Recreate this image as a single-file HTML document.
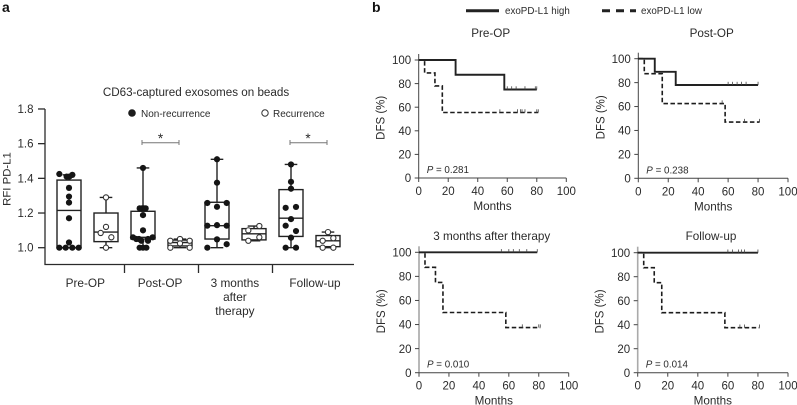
<!DOCTYPE html>
<html lang="en">
<head>
<meta charset="utf-8">
<title>Exosomal PD-L1 figure</title>
<style>
html,body{margin:0;padding:0;background:#fff;}
svg{display:block;font-family:"Liberation Sans",Arial,sans-serif;fill:#2b2b2b;filter:blur(.3px);}
text{fill:#2b2b2b;}
</style>
</head>
<body>
<svg id="figure" width="797" height="405" viewBox="0 0 797 405" xmlns="http://www.w3.org/2000/svg">
  <rect x="0" y="0" width="797" height="405" style="fill:#fff"/>
  <text x="2" y="12" font-size="14" font-weight="bold" style="fill:#111">a</text>
  <text x="372" y="12" font-size="14" font-weight="bold" style="fill:#111">b</text>
  <text x="196" y="96" font-size="11.65" text-anchor="middle">CD63-captured exosomes on beads</text>
  <text transform="translate(10.500,179) rotate(-90)" font-size="11.4" text-anchor="middle">RFI PD-L1</text>
  <circle cx="132" cy="113" r="3.8" style="fill:#1c1c1c"/>
  <text x="141" y="117" font-size="10">Non-recurrence</text>
  <circle cx="265" cy="113" r="3.2" style="fill:#fff;stroke:#333;stroke-width:1"/>
  <text x="273" y="117" font-size="10">Recurrence</text>
  <g style="fill:none;stroke:#777;stroke-width:1">
    <path d="M142 140V145M142 142.7H179M179 140V145"/>
  </g>
  <text x="160.500" y="143" font-size="13.500" text-anchor="middle">*</text>
  <g style="fill:none;stroke:#777;stroke-width:1">
    <path d="M290 140V145M290 142.7H327M327 140V145"/>
  </g>
  <text x="308" y="143" font-size="13.500" text-anchor="middle">*</text>
  <line x1="466" y1="10.700" x2="499" y2="10.700" style="stroke:#222;stroke-width:3"/>
  <text x="505" y="14" font-size="9.800">exoPD-L1 high</text>
  <line x1="602" y1="10.700" x2="636" y2="10.700" style="stroke:#222;stroke-width:3;stroke-dasharray:8 6"/>
  <text x="641" y="14" font-size="9.800">exoPD-L1 low</text>
  <g id="box-chart"></g>
  <g id="km-charts"></g>
</svg>
<script>
// ---------- Panel a data ----------
const boxCategories = [["Pre-OP"], ["Post-OP"], ["3 months", "after", "therapy"], ["Follow-up"]];
const rfiTicks = [1.0, 1.2, 1.4, 1.6, 1.8];
const boxLow = [1.0, 1.0, 1.0, 1.0, 1.0, 1.04, 1.0, 1.0];
const boxQ1 = [1.0, 1.035, 1.05, 1.01, 1.05, 1.045, 1.065, 1.006];
const boxMedian = [1.215, 1.09, 1.06, 1.03, 1.127, 1.08, 1.17, 1.04];
const boxQ3 = [1.39, 1.2, 1.21, 1.044, 1.262, 1.11, 1.335, 1.07];
const boxHigh = [1.42, 1.29, 1.46, 1.05, 1.51, 1.125, 1.48, 1.09];
const preOpNonValues = [1.425, 1.42, 1.41, 1.41, 1.345, 1.295, 1.26, 1.17, 1.03, 1.0, 1.0, 1.0, 1.0];
const preOpNonSlots = [-1.45, 0.5, -0.35, 0.05, 0, 0, 0, 0, 0, -1.45, -0.5, 0.5, 1.45];
const preOpRecValues = [1.29, 1.12, 1.085, 1.06, 1.0];
const preOpRecSlots = [0, 0, -0.8, 0.8, 0];
const postOpNonValues = [1.46, 1.227, 1.227, 1.227, 1.227, 1.188, 1.1, 1.06, 1.06, 1.05, 1.05, 1.05, 1.04, 1.04, 1.0, 1.0, 1.0];
const postOpNonSlots = [0, -0.5, -0.15, 0.15, 0.4, 0, 0, -1.5, 1.45, -1, -0.6, 0.75, -0.25, 0.75, -0.5, 0, 0.5];
const postOpRecValues = [1.05, 1.04, 1.04, 1.025, 1.0, 1.0];
const postOpRecSlots = [0, -1.45, 1.45, 0, -1.45, 1.45];
const threeMonthNonValues = [1.51, 1.375, 1.258, 1.258, 1.236, 1.127, 1.13, 1.127, 1.048, 1.02, 1.0];
const threeMonthNonSlots = [0, 0, -1.45, 1.45, 0, -1.45, 0, 1.45, 0, 1.45, -1.45];
const threeMonthRecValues = [1.125, 1.1, 1.06, 1.04];
const threeMonthRecSlots = [0.8, -0.85, 0.8, -0.85];
const followUpNonValues = [1.48, 1.38, 1.34, 1.23, 1.235, 1.165, 1.127, 1.096, 1.058, 1.0, 1.0];
const followUpNonSlots = [0, 0, 0, -0.8, 0.75, 0, -0.8, 0.75, 0, -0.8, 0.75];
const followUpRecValues = [1.09, 1.04, 1.055, 1.0, 1.0];
const followUpRecSlots = [0, -0.8, 0.8, -0.8, 0.8];

// ---------- Panel b data ----------
const monthTicks = [0, 20, 40, 60, 80, 100];
const dfsTicks = [0, 20, 40, 60, 80, 100];
const preOpHighMonths = [0, 25, 58, 80];
const preOpHighDfs = [100, 87.5, 75, 75];
const preOpHighCensored = [60, 63, 66, 72, 79, 80];
const preOpLowMonths = [0, 4, 11, 16, 81];
const preOpLowDfs = [100, 89, 78, 55.5, 55.5];
const preOpLowCensored = [55, 67, 69, 70, 72, 80, 81];
const postOpHighMonths = [0, 11, 25, 80];
const postOpHighDfs = [100, 89, 78, 78];
const postOpHighCensored = [60, 63, 66, 69, 72, 80];
const postOpLowMonths = [0, 4, 16, 58, 81];
const postOpLowDfs = [100, 87.5, 62.5, 47, 47];
const postOpLowCensored = [56, 71, 81];
const threeMonthHighMonths = [0, 79];
const threeMonthHighDfs = [100, 100];
const threeMonthHighCensored = [55, 60, 63, 67, 72, 79];
const threeMonthLowMonths = [0, 4, 11, 16, 58, 81];
const threeMonthLowDfs = [100, 87.5, 75, 50, 37.5, 37.5];
const threeMonthLowCensored = [69, 80, 81];
const followUpHighMonths = [0, 80];
const followUpHighDfs = [100, 100];
const followUpHighCensored = [60, 63, 67, 69, 71, 80];
const followUpLowMonths = [0, 4, 11, 16, 58, 81];
const followUpLowDfs = [100, 87.5, 75, 50, 37.5, 37.5];
const followUpLowCensored = [68, 71, 81];

const NS = "http://www.w3.org/2000/svg";
function make(tag, attrs, parent, style) {
  const el = document.createElementNS(NS, tag);
  for (const k in attrs) el.setAttribute(k, attrs[k]);
  if (style) el.setAttribute("style", style);
  parent.appendChild(el);
  return el;
}

// ---------- Box chart ----------
const boxRoot = document.getElementById("box-chart");
const yRfi = v => 247.7 - (v - 1) * 173.4;
const xBox = i => 69 + 37 * i;
const slotPx = 6.67;
const halfBox = 12;
const axisStyle = "stroke:#2b2b2b;stroke-width:1.3;fill:none";

const rfiAxis = make("line", {x1: 45, y1: yRfi(1.8), x2: 45, y2: 264.5}, boxRoot, axisStyle);


const catAxis = make("line", {x1: 44.4, y1: 264.5, x2: 354, y2: 264.5}, boxRoot, axisStyle);



rfiTicks.forEach(t => {
  const tick = make("line", {x1: 38, y1: yRfi(t), x2: 45, y2: yRfi(t)}, boxRoot, axisStyle);
  
  
  const label = make("text", {x: 33.500, y: yRfi(t) + 4, "font-size": 11.5, "text-anchor": "end"}, boxRoot);
  
  
  label.textContent = t.toFixed(1);
});

const categoryCenter = i => i === 3 ? 315 : 85.3 + 74.8 * i;
boxCategories.forEach((lines, i) => {
  if (i < 3) {
    const sep = make("line", {x1: (xBox(2 * i + 1) + xBox(2 * i + 2)) / 2, y1: 264.5, x2: (xBox(2 * i + 1) + xBox(2 * i + 2)) / 2, y2: 273}, boxRoot, axisStyle);
    
    
  }
  lines.forEach((line, j) => {
    const label = make("text", {x: categoryCenter(i), y: 287 + j * 14, "font-size": 11.8, "text-anchor": "middle"}, boxRoot);
    
    
    label.textContent = line;
  });
});

const boxPointValues = [preOpNonValues, preOpRecValues, postOpNonValues, postOpRecValues, threeMonthNonValues, threeMonthRecValues, followUpNonValues, followUpRecValues];
const boxPointSlots = [preOpNonSlots, preOpRecSlots, postOpNonSlots, postOpRecSlots, threeMonthNonSlots, threeMonthRecSlots, followUpNonSlots, followUpRecSlots];

boxMedian.forEach((median, i) => {
  const cx = xBox(i);
  const open = i % 2 === 1;
  const group = make("g", {}, boxRoot);
  
  
  const ln = "stroke:#222;stroke-width:1.4;fill:none";
  const box = make("rect", {x: cx - halfBox, y: yRfi(boxQ3[i]), width: 2 * halfBox, height: yRfi(boxQ1[i]) - yRfi(boxQ3[i])}, group, ln);
  
  
  const med = make("line", {x1: cx - halfBox, y1: yRfi(median), x2: cx + halfBox, y2: yRfi(median)}, group, ln);
  
  
  const upper = make("path", {d: "M" + cx + " " + yRfi(boxQ3[i]) + "V" + yRfi(boxHigh[i]) + "M" + (cx - 6.3) + " " + yRfi(boxHigh[i]) + "H" + (cx + 6.3)}, group, ln);
  
  
  const lower = make("path", {d: "M" + cx + " " + yRfi(boxQ1[i]) + "V" + yRfi(boxLow[i]) + "M" + (cx - 6.3) + " " + yRfi(boxLow[i]) + "H" + (cx + 6.3)}, group, ln);
  
  
  boxPointValues[i].forEach((v, k) => {
    const dot = make("circle", {cx: cx + boxPointSlots[i][k] * slotPx, cy: yRfi(v), r: open ? 2.6 : 3.1}, group,
      open ? "fill:#fff;stroke:#333;stroke-width:1.1" : "fill:#151515");
    
    
  });
});

// ---------- Survival charts ----------
const kmRoot = document.getElementById("km-charts");
function drawPanel(name, title, pValue, frame, high, low) {
  const x = m => frame.x0 + (frame.x100 - frame.x0) * m / 100;
  const y = d => frame.y0 - (frame.y0 - frame.y100) * d / 100;
  const g = make("g", {}, kmRoot);
  
  

  const titleEl = make("text", {x: frame.titleX, y: frame.titleY, "font-size": 11.7, "text-anchor": "middle"}, g);
  
  
  titleEl.textContent = title;

  const ax = "stroke:#444;stroke-width:1;fill:none";
  const yAxis = make("line", {x1: x(0), y1: y(100) - 6, x2: x(0), y2: y(0)}, g, "stroke:" + frame.yColor + ";stroke-width:" + frame.yWidth + ";fill:none");
  
  
  const xAxis = make("line", {x1: x(0), y1: y(0), x2: x(100), y2: y(0)}, g, ax);
  
  

  dfsTicks.forEach(t => {
    const tick = make("line", {x1: x(0) - 4, y1: y(t), x2: x(0), y2: y(t)}, g, ax);
    
    
    const label = make("text", {x: x(0) - 7.5, y: y(t) + 4.2, "font-size": 11.5, "text-anchor": "end"}, g);
    
    
    label.textContent = t;
  });
  monthTicks.forEach(t => {
    const tick = make("line", {x1: x(t), y1: y(0), x2: x(t), y2: y(0) + 4}, g, ax);
    
    
    const label = make("text", {x: x(t), y: y(0) + 17, "font-size": 11.5, "text-anchor": "middle"}, g);
    
    
    label.textContent = t;
  });

  const yTitle = make("text", {transform: "translate(" + (x(0) - 34) + "," + (y(50) - 1.2) + ") rotate(-90)", "font-size": 11.5, "text-anchor": "middle"}, g);
  
  
  yTitle.textContent = "DFS (%)";
  const xTitle = make("text", {x: x(50), y: y(0) + 32, "font-size": 11.7, "text-anchor": "middle"}, g);
  
  
  xTitle.textContent = "Months";

  const p = make("text", {x: x(0) + 8, y: y(0) - 5, "font-size": 9.8}, g);
  
  
  const pi = make("tspan", {"font-style": "italic"}, p);
  
  
  pi.textContent = "P";
  p.appendChild(document.createTextNode(" = " + pValue));

  function stepPath(months, dfs) {
    let d = "M" + x(months[0]) + " " + y(dfs[0]);
    for (let i = 1; i < months.length; i++) {
      d += "H" + x(months[i]) + "V" + y(dfs[i]);
    }
    return d;
  }
  function valueAt(months, dfs, m) {
    let v = dfs[0];
    for (let i = 0; i < months.length; i++) if (months[i] <= m) v = dfs[i];
    return v;
  }
  const lowLine = make("path", {d: stepPath(low.months, low.dfs)}, g, "fill:none;stroke:#1c1c1c;stroke-width:1.6;stroke-dasharray:4.500 2.500");
  
  
  const highLine = make("path", {d: stepPath(high.months, high.dfs)}, g, "fill:none;stroke:#222;stroke-width:1.9");
  
  
  low.censored.forEach(m => {
    const v = y(valueAt(low.months, low.dfs, m));
    const tick = make("line", {x1: x(m), y1: v, x2: x(m), y2: v - 3.2}, g, "stroke:#444;stroke-width:.8");
    
    
  });
  high.censored.forEach(m => {
    const v = y(valueAt(high.months, high.dfs, m));
    const tick = make("line", {x1: x(m), y1: v, x2: x(m), y2: v - 3.2}, g, "stroke:#444;stroke-width:.8");
    
    
  });
}

drawPanel("pre-op", "Pre-OP", "0.281",
  {x0: 418.7, x100: 566.3, y0: 178, y100: 60, titleX: 490.7, titleY: 37, yColor: "#444", yWidth: 1},
  {months: preOpHighMonths, dfs: preOpHighDfs, censored: preOpHighCensored},
  {months: preOpLowMonths, dfs: preOpLowDfs, censored: preOpLowCensored});
drawPanel("post-op", "Post-OP", "0.238",
  {x0: 638.3, x100: 788, y0: 178.3, y100: 58.7, titleX: 711.7, titleY: 37, yColor: "#444", yWidth: 1},
  {months: postOpHighMonths, dfs: postOpHighDfs, censored: postOpHighCensored},
  {months: postOpLowMonths, dfs: postOpLowDfs, censored: postOpLowCensored});
drawPanel("three-months", "3 months after therapy", "0.010",
  {x0: 419, x100: 568.7, y0: 372.7, y100: 252.3, titleX: 491.7, titleY: 240, yColor: "#888", yWidth: 1.2},
  {months: threeMonthHighMonths, dfs: threeMonthHighDfs, censored: threeMonthHighCensored},
  {months: threeMonthLowMonths, dfs: threeMonthLowDfs, censored: threeMonthLowCensored});
drawPanel("follow-up", "Follow-up", "0.014",
  {x0: 637.7, x100: 788, y0: 372.7, y100: 252.7, titleX: 711, titleY: 240, yColor: "#aaa", yWidth: 1.6},
  {months: followUpHighMonths, dfs: followUpHighDfs, censored: followUpHighCensored},
  {months: followUpLowMonths, dfs: followUpLowDfs, censored: followUpLowCensored});
</script>
</body>
</html>
